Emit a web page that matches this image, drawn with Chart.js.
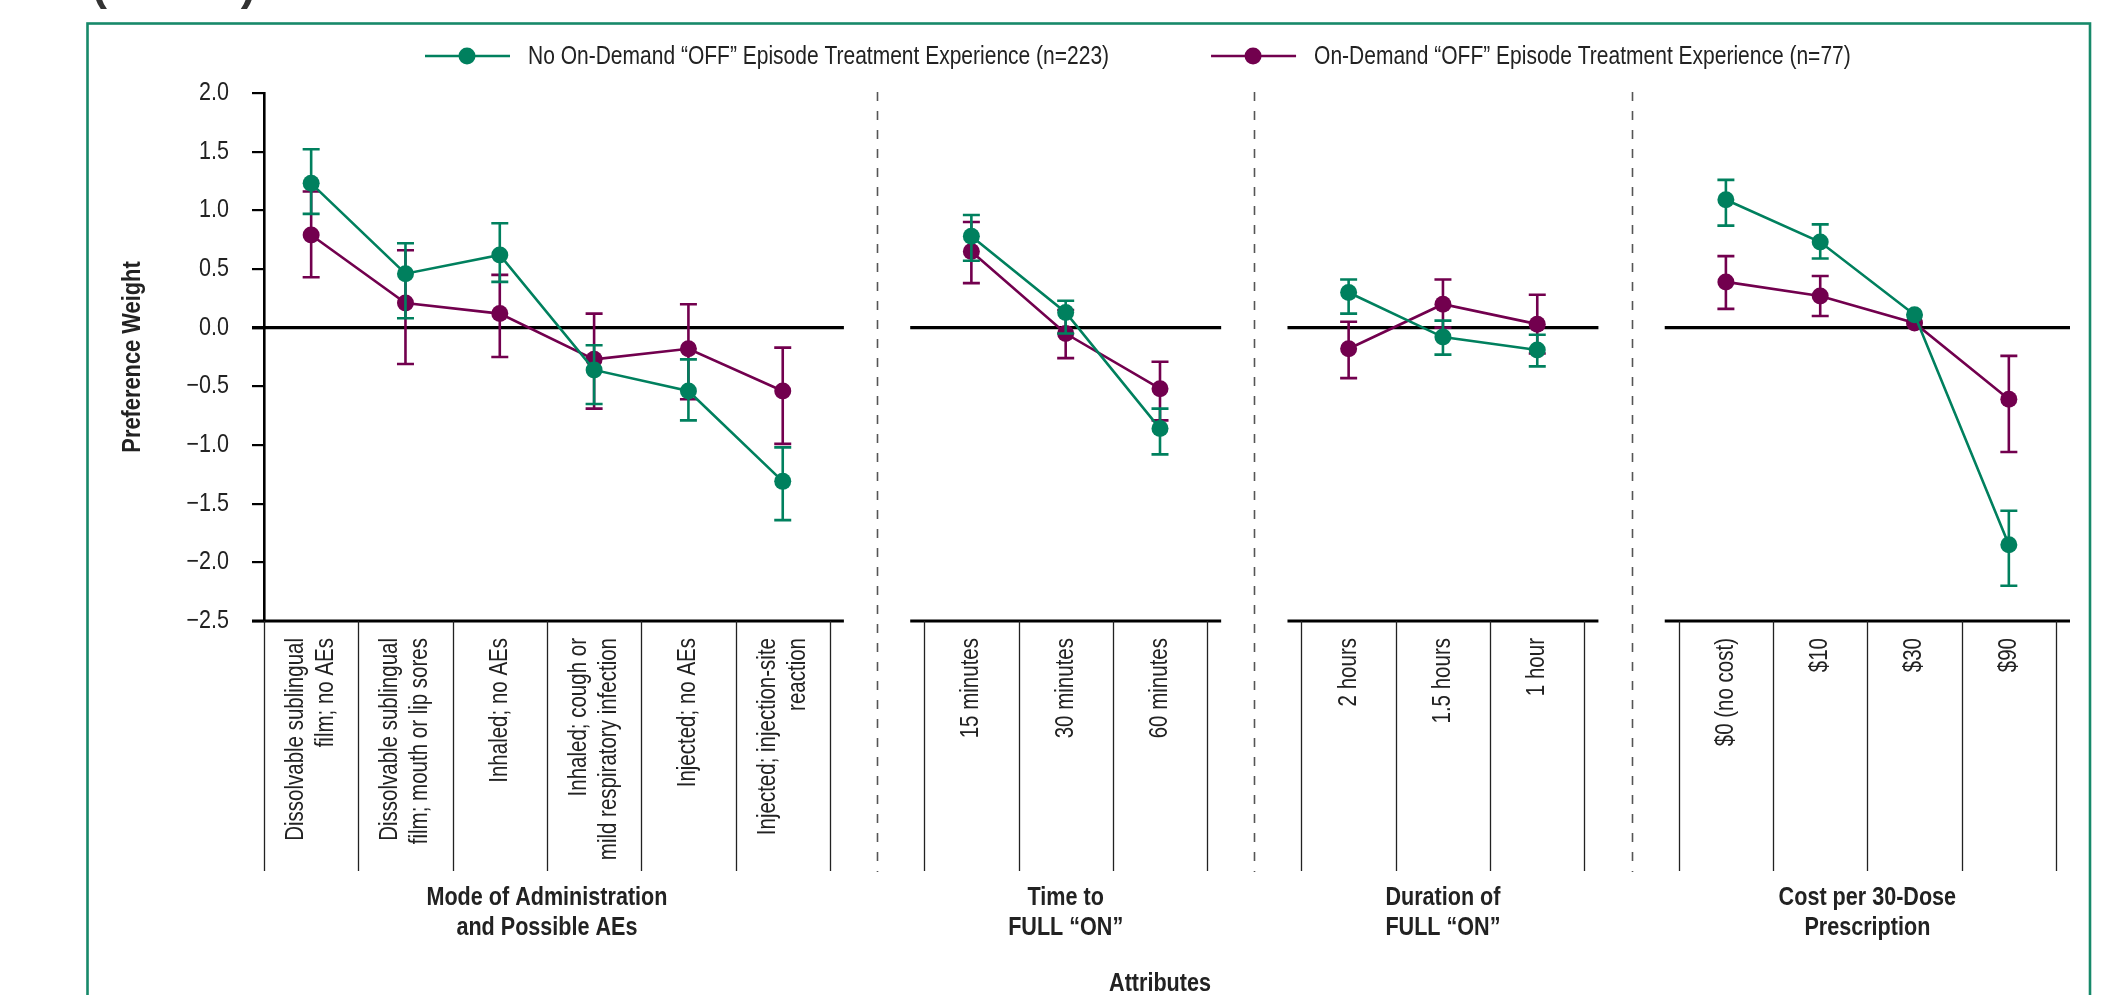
<!DOCTYPE html>
<html>
<head>
<meta charset="utf-8">
<title>Preference Weights by Treatment Experience</title>
<script src="https://cdn.jsdelivr.net/npm/chart.js@4.4.1/dist/chart.umd.min.js"></script>
<style>
  html, body { margin: 0; padding: 0; background: #fff; }
  canvas { display: block; }
</style>
</head>
<body>
<canvas id="chart" width="2108" height="995"></canvas>
<script>
// ---- Attribute groups and their levels ----
const groupTitles = [
  ["Mode of Administration", "and Possible AEs"],
  ["Time to", "FULL \u201cON\u201d"],
  ["Duration of", "FULL \u201cON\u201d"],
  ["Cost per 30-Dose", "Prescription"]
];
const modeLevels = [
  ["Dissolvable sublingual", "film; no AEs"],
  ["Dissolvable sublingual", "film; mouth or lip sores"],
  ["Inhaled; no AEs"],
  ["Inhaled; cough or", "mild respiratory infection"],
  ["Injected; no AEs"],
  ["Injected; injection-site", "reaction"]
];
const timeLevels = [["15 minutes"], ["30 minutes"], ["60 minutes"]];
const durationLevels = [["2 hours"], ["1.5 hours"], ["1 hour"]];
const costLevels = [["$0 (no cost)"], ["$10"], ["$30"], ["$90"]];
const levelLabels = [modeLevels, timeLevels, durationLevels, costLevels];

// ---- Series: preference weights with 95% CI bounds, one array per attribute ----
const seriesNames = [
  "No On-Demand \u201cOFF\u201d Episode Treatment Experience (n=223)",
  "On-Demand \u201cOFF\u201d Episode Treatment Experience (n=77)"
];
const noExpWeight = [
  [1.23, 0.46, 0.62, -0.36, -0.54, -1.31],
  [0.78, 0.13, -0.86],
  [0.30, -0.08, -0.19],
  [1.09, 0.73, 0.11, -1.85]
];
const noExpUpper = [
  [1.52, 0.72, 0.89, -0.15, -0.27, -1.02],
  [0.96, 0.23, -0.69],
  [0.41, 0.06, -0.06],
  [1.26, 0.88, null, -1.56]
];
const noExpLower = [
  [0.97, 0.08, 0.39, -0.65, -0.79, -1.64],
  [0.57, -0.05, -1.08],
  [0.12, -0.23, -0.33],
  [0.87, 0.59, null, -2.20]
];
const expWeight = [
  [0.79, 0.21, 0.12, -0.27, -0.18, -0.54],
  [0.65, -0.05, -0.52],
  [-0.18, 0.20, 0.03],
  [0.39, 0.27, 0.04, -0.61]
];
const expUpper = [
  [1.16, 0.66, 0.45, 0.12, 0.20, -0.17],
  [0.90, 0.15, -0.29],
  [0.05, 0.41, 0.28],
  [0.61, 0.44, null, -0.24]
];
const expLower = [
  [0.43, -0.31, -0.25, -0.69, -0.61, -0.99],
  [0.38, -0.26, -0.79],
  [-0.43, 0.00, -0.22],
  [0.16, 0.10, null, -1.06]
];

// ---- Y axis ----
const yMin = -2.5, yMax = 2.0, yStep = 0.5;
const yTitle = "Preference Weight";
const xTitle = "Attributes";
const figureNote = "(N=300)";

// ---- Style ----
const FONT = "'Liberation Sans', Arial, sans-serif";
const INK = '#222222';
const GREEN = '#00805E';
const PURPLE = '#72004E';
const FRAME = '#17896A';

// Flatten the groups onto one category axis, with an empty slot between groups
const labels = [];
const panels = [];
levelLabels.forEach((levels, g) => {
  if (g > 0) labels.push('');
  panels.push({ start: labels.length, count: levels.length, title: groupTitles[g] });
  levels.forEach(l => labels.push(l));
});
function spread(groups) {
  const out = [];
  groups.forEach((vals, g) => {
    if (g > 0) out.push(null);
    vals.forEach(v => out.push(v));
  });
  return out;
}
const fmt = v => (v < 0 ? '\u2212' : '') + Math.abs(v).toFixed(1);

// Condensed text: draw with a horizontal squeeze along the text direction
function drawText(ctx, str, x, y, o) {
  ctx.save();
  ctx.translate(x, y);
  if (o.rot) ctx.rotate(o.rot);
  ctx.scale(o.sx || 0.82, 1);
  ctx.font = o.font;
  ctx.textAlign = o.align || 'left';
  ctx.textBaseline = o.baseline || 'middle';
  ctx.fillStyle = o.color || INK;
  ctx.fillText(str, 0, 0);
  ctx.restore();
}
function textWidth(ctx, str, font, sx) {
  ctx.save();
  ctx.font = font;
  const w = ctx.measureText(str).width * sx;
  ctx.restore();
  return w;
}

const decor = {
  id: 'decor',
  beforeDraw(chart) {
    const ctx = chart.ctx;
    ctx.save();
    // figure note, mostly above the top edge
    ctx.fillStyle = '#333';
    ctx.font = "bold 45px 'Liberation Sans', Arial, sans-serif";
    ctx.textAlign = 'left';
    ctx.textBaseline = 'alphabetic';
    ctx.fillText(figureNote, 92, 0);
    // frame
    ctx.strokeStyle = FRAME;
    ctx.lineWidth = 2.6;
    ctx.strokeRect(87.5, 23.5, 2090 - 87.5, 1100);
    // legend
    const ly = 56;
    const lf = `25px ${FONT}`, lsx = 0.84;
    let lx = 425;
    [[seriesNames[0], GREEN], [seriesNames[1], PURPLE]].forEach(([name, col]) => {
      ctx.strokeStyle = col;
      ctx.fillStyle = col;
      ctx.lineWidth = 2.6;
      ctx.beginPath(); ctx.moveTo(lx, ly); ctx.lineTo(lx + 85, ly); ctx.stroke();
      ctx.beginPath(); ctx.arc(lx + 42, ly, 8.5, 0, Math.PI * 2); ctx.fill();
      drawText(ctx, name, lx + 103, ly + 1, { font: lf, sx: lsx });
      lx += 103 + textWidth(ctx, name, lf, lsx) + 102;
    });
    ctx.restore();
  },
  beforeDatasetsDraw(chart) {
    const { ctx, chartArea } = chart;
    const xs = chart.scales.x, ys = chart.scales.y;
    const w = xs.getPixelForValue(1) - xs.getPixelForValue(0);
    const y0 = ys.getPixelForValue(0);
    const yb = chartArea.bottom;
    ctx.save();
    panels.forEach((p, idx) => {
      const L = xs.getPixelForValue(p.start) - w / 2;
      const R = xs.getPixelForValue(p.start + p.count - 1) + w / 2;
      const a = idx === 0 ? chartArea.left - 12 : L - 14;
      const b = R + 14;
      ctx.strokeStyle = '#000';
      ctx.lineWidth = 3.2;
      ctx.beginPath();
      ctx.moveTo(a, y0); ctx.lineTo(b, y0);
      ctx.moveTo(a, yb); ctx.lineTo(b, yb);
      ctx.stroke();
      // level separators under the axis
      ctx.strokeStyle = INK;
      ctx.lineWidth = 1.3;
      ctx.beginPath();
      for (let k = 0; k <= p.count; k++) {
        const x = Math.round(L + k * w) + 0.5;
        ctx.moveTo(x, yb); ctx.lineTo(x, 871);
      }
      ctx.stroke();
      // dashed divider before the next group
      if (idx < panels.length - 1) {
        const xd = Math.round(xs.getPixelForValue(p.start + p.count)) + 0.5;
        ctx.strokeStyle = '#555';
        ctx.lineWidth = 1.6;
        ctx.setLineDash([9, 10]);
        ctx.beginPath(); ctx.moveTo(xd, 92); ctx.lineTo(xd, 872); ctx.stroke();
        ctx.setLineDash([]);
      }
    });
    ctx.restore();
  },
  beforeDatasetDraw(chart, args) {
    const ds = chart.data.datasets[args.index];
    const meta = args.meta;
    const ys = chart.scales.y;
    const ctx = chart.ctx;
    ctx.save();
    ctx.strokeStyle = ds.borderColor;
    ctx.lineWidth = 2.6;
    meta.data.forEach((pt, i) => {
      const lo = ds.lower[i], hi = ds.upper[i];
      if (lo == null || hi == null) return;
      const x = pt.x;
      const yl = ys.getPixelForValue(lo), yh = ys.getPixelForValue(hi);
      ctx.beginPath();
      ctx.moveTo(x, yl); ctx.lineTo(x, yh);
      ctx.moveTo(x - 8.5, yl); ctx.lineTo(x + 8.5, yl);
      ctx.moveTo(x - 8.5, yh); ctx.lineTo(x + 8.5, yh);
      ctx.stroke();
    });
    ctx.restore();
  },
  afterDraw(chart) {
    const { ctx, chartArea } = chart;
    const xs = chart.scales.x, ys = chart.scales.y;
    // y tick labels
    ys.ticks.forEach(t => {
      drawText(ctx, fmt(t.value), chartArea.left - 12 - 23, ys.getPixelForValue(t.value),
        { font: `25px ${FONT}`, align: 'right', sx: 0.86 });
    });
    // level labels, rotated
    labels.forEach((lab, i) => {
      if (!lab || !lab.length) return;
      const x = xs.getPixelForValue(i);
      lab.forEach((line, k) => {
        const lx = x + (k - (lab.length - 1) / 2) * 30;
        drawText(ctx, line, lx, chartArea.bottom + 17,
          { font: `25px ${FONT}`, align: 'right', rot: -Math.PI / 2, sx: 0.82 });
      });
    });
    // group titles
    const gf = `bold 26px ${FONT}`;
    panels.forEach(p => {
      const cx = (xs.getPixelForValue(p.start) + xs.getPixelForValue(p.start + p.count - 1)) / 2;
      p.title.forEach((line, k) => drawText(ctx, line, cx, 898 + k * 30, { font: gf, align: 'center', sx: 0.83 }));
    });
    // axis titles
    drawText(ctx, xTitle, (chartArea.left + chartArea.right) / 2, 984, { font: gf, align: 'center', sx: 0.83 });
    drawText(ctx, yTitle, 133, (chartArea.top + chartArea.bottom) / 2,
      { font: `bold 26px ${FONT}`, align: 'center', rot: -Math.PI / 2, sx: 0.84 });
  }
};

new Chart(document.getElementById('chart'), {
  type: 'line',
  data: {
    labels,
    datasets: [
      {
        label: seriesNames[0],
        data: spread(noExpWeight),
        lower: spread(noExpLower),
        upper: spread(noExpUpper),
        borderColor: GREEN,
        backgroundColor: GREEN,
        pointBackgroundColor: GREEN
      },
      {
        label: seriesNames[1],
        data: spread(expWeight),
        lower: spread(expLower),
        upper: spread(expUpper),
        borderColor: PURPLE,
        backgroundColor: PURPLE,
        pointBackgroundColor: PURPLE
      }
    ]
  },
  options: {
    responsive: false,
    animation: false,
    devicePixelRatio: 1,
    spanGaps: false,
    layout: { padding: { top: 93, right: 52, bottom: 374, left: 0 } },
    plugins: { legend: { display: false }, tooltip: { enabled: false } },
    elements: {
      line: { borderWidth: 2.6, tension: 0, fill: false },
      point: { radius: 8.5, hoverRadius: 8.5, borderWidth: 0 }
    },
    scales: {
      x: { type: 'category', display: false, offset: true },
      y: {
        min: yMin,
        max: yMax,
        afterFit: s => { s.width = 264; },
        border: { display: true, color: '#000', width: 2.6 },
        grid: { drawOnChartArea: false, drawTicks: true, tickLength: 12, color: '#000', lineWidth: 2.2 },
        ticks: { stepSize: yStep, display: false }
      }
    }
  },
  plugins: [decor]
});
</script>
</body>
</html>
